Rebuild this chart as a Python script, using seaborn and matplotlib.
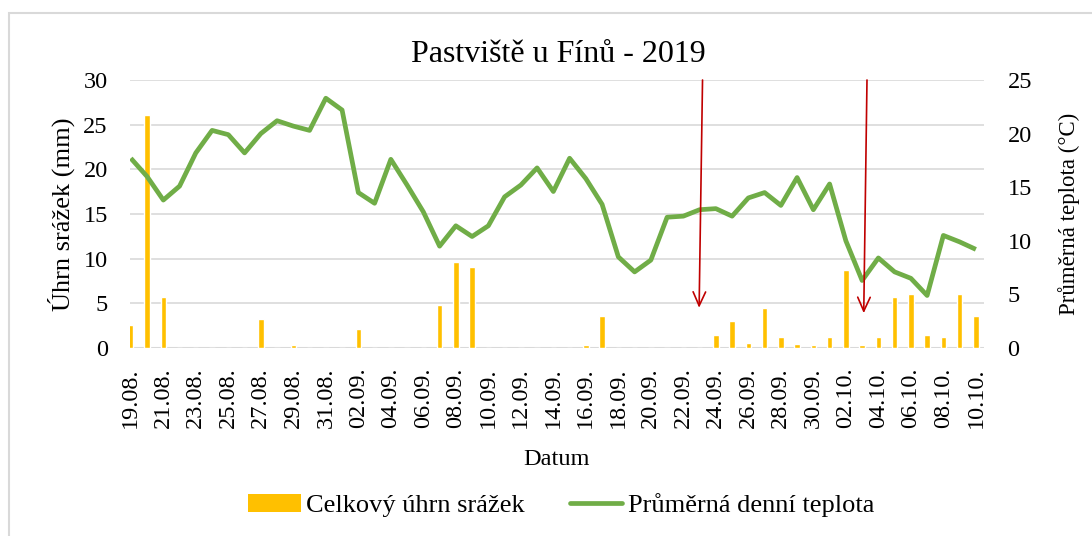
import numpy as np
import pandas as pd
import matplotlib
matplotlib.use("Agg")
import matplotlib.pyplot as plt
from matplotlib.patches import Patch, Rectangle
from matplotlib.lines import Line2D
import seaborn as sns

sns.set_style("white")
plt.rcParams['font.family'] = ['Liberation Serif', 'DejaVu Serif']
plt.rcParams['text.color'] = 'black'
plt.rcParams['axes.labelcolor'] = 'black'
plt.rcParams['xtick.color'] = 'black'
plt.rcParams['ytick.color'] = 'black'

# data
dates = list(pd.date_range("2019-08-19", "2019-10-10").strftime("%d.%m."))
srazky = [2.6, 26.1, 5.7, 0, 0, 0, 0, 0, 3.3, 0, 0.3, 0, 0, 0, 2.1, 0, 0, 0, 0,
          4.8, 9.6, 9.1, 0, 0, 0, 0, 0, 0, 0.3, 3.6, 0, 0, 0, 0, 0, 0, 1.5, 3.0,
          0.6, 4.5, 1.2, 0.5, 0.3, 1.2, 8.7, 0.3, 1.2, 5.7, 6.0, 1.5, 1.2, 6.0, 3.6]
teplota = [17.7, 16.0, 13.8, 15.1, 18.2, 20.3, 19.9, 18.2, 20.0, 21.2, 20.7, 20.3,
           23.3, 22.2, 14.5, 13.5, 17.6, 15.2, 12.7, 9.5, 11.4, 10.4, 11.4, 14.1,
           15.2, 16.8, 14.6, 17.7, 15.8, 13.4, 8.5, 7.1, 8.2, 12.2, 12.3, 12.9,
           13.0, 12.3, 14.0, 14.5, 13.3, 15.9, 12.9, 15.3, 10.0, 6.3, 8.4, 7.1,
           6.5, 4.9, 10.5, 9.9, 9.2]
# red arrows (x start, x tip, tip in degC)
sipky = [(35.18, 34.97, 3.75), (45.3, 45.1, 3.25)]

df = pd.DataFrame({"datum": dates, "srazky": srazky, "teplota": teplota,
                   "pos": np.arange(len(dates))})

BAR = "#FFC000"
LINE = "#70AD47"
GRID = "#D9D9D9"
FS = 17.5

fig = plt.figure(figsize=(10.92, 5.36), dpi=100)
ax = fig.add_axes([130/1092, 1-348/536, (984-130)/1092, (348-80)/536])

sns.barplot(data=df, x="datum", y="srazky", ax=ax, color=BAR, saturation=1,
            width=0.33, zorder=2)
ax.set_ylim(0, 30)
ax.set_yticks(range(0, 31, 5))
ax.set_xlim(-0.05, 52.5)
ax.yaxis.grid(True, color=GRID, lw=1.2)
ax.set_axisbelow(True)
for s in ax.spines.values():
    s.set_visible(False)
ax.axhline(0, color=GRID, lw=1.5, zorder=1)

ax.set_xticks(range(len(dates)))
ax.set_xticklabels([d if i % 2 == 0 else "" for i, d in enumerate(dates)],
                   rotation=90)
ax.tick_params(axis="x", length=6, width=1.2, color=GRID, labelcolor="black",
               pad=8, labelsize=FS)
ax.tick_params(axis="y", length=0, pad=16, labelsize=FS)
ax.set_xlabel("Datum", fontsize=FS, labelpad=15)
ax.set_ylabel("Úhrn srážek (mm)", fontsize=19, labelpad=6)

ax2 = ax.twinx()
sns.lineplot(data=df, x="pos", y="teplota", ax=ax2, color=LINE, lw=3.4,
             solid_joinstyle="round", solid_capstyle="butt")
ax2.set_ylim(0, 25)
ax2.set_yticks(range(0, 26, 5))
ax2.set_xlim(-0.05, 52.5)
for s in ax2.spines.values():
    s.set_visible(False)
ax2.tick_params(axis="y", length=0, pad=17, labelsize=FS)
ax2.set_ylabel("Průměrná teplota (°C)", fontsize=16.5, labelpad=19)

for x0, x1, y1 in sipky:
    ax2.annotate("", xy=(x1, y1), xytext=(x0, 25),
                 arrowprops=dict(arrowstyle="->,head_length=1.0,head_width=0.45",
                                 color="#C00000", lw=1.2, shrinkA=0, shrinkB=0))

fig.text(558/1092, 1-54/536, "Pastviště u Fínů - 2019", ha="center",
         va="center", fontsize=23)

handles = [Patch(facecolor=BAR, edgecolor="none"),
           Line2D([0], [0], color=LINE, lw=3.4, solid_capstyle="round")]
fig.legend(handles, ["Celkový úhrn srážek", "Průměrná denní teplota"],
           loc="center", bbox_to_anchor=(561/1092, 1-505/536), ncol=2,
           frameon=False, fontsize=19, handlelength=2.0, handleheight=0.7,
           handletextpad=0.2, columnspacing=1.7)

fig.patches.append(Rectangle((9/1092, -0.1), 1.2, 1-13/536+0.1,
                             transform=fig.transFigure, fill=False,
                             edgecolor=GRID, lw=1.5))

fig.savefig("out.png", dpi=100)
